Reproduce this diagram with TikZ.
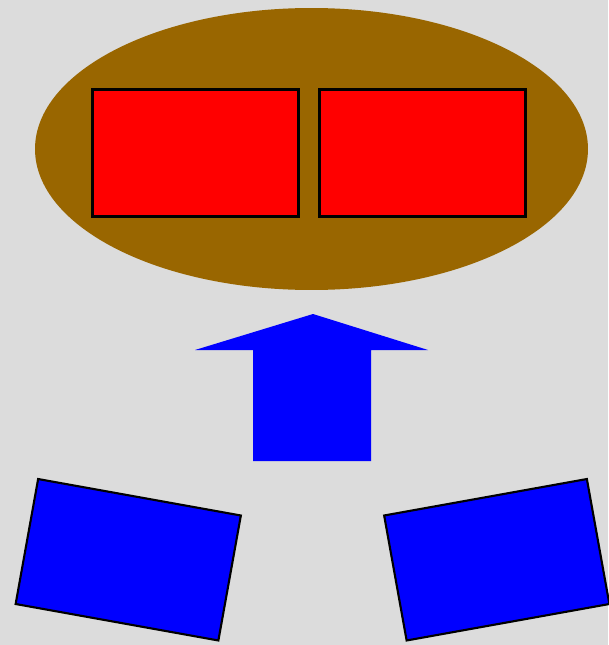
\documentclass[tikz,border=0pt]{standalone}
\usepackage{xcolor}
\usepackage{tikz}
\usetikzlibrary{shapes.geometric}
\definecolor{pagebg}{HTML}{DCDCDC}
\definecolor{brownfill}{HTML}{996600}
\definecolor{redfill}{HTML}{FF0000}
\definecolor{bluefill}{HTML}{0000FF}
\tikzset{
  vdish/.style={ellipse,fill=brownfill,inner sep=0pt,minimum width=27.65cm,minimum height=14.1cm},
  vred/.style={draw=black,fill=redfill,line width=3pt,inner sep=0pt,minimum width=10.3cm,minimum height=6.35cm},
  vblue/.style={draw=black,fill=bluefill,line width=3pt,inner sep=0pt,minimum width=10.3cm,minimum height=6.35cm},
  vup/.style={fill=bluefill}
}

\begin{document}
\begin{tikzpicture}[x=0.05cm,y=-0.05cm,font=\small]
  \fill[pagebg] (0,0) rectangle (608,645);
  \useasboundingbox (0,0) rectangle (608,645);
  \node[vdish] (dish) at (311.5,149) {};
  \node[vred] (left part) at (195.5,153) {};
  \node[vred] (right part) at (422.5,153) {};
  \fill[vup] (313,314) -- (428,350) -- (371,350) -- (371,461)
    -- (253,461) -- (253,350) -- (195,350) -- cycle;
  \node[vblue,rotate=-10.2] (left piece) at (128.25,559.75) {};
  \node[vblue,rotate=10.2] (right piece) at (496.75,559.75) {};
\end{tikzpicture}
\end{document}
